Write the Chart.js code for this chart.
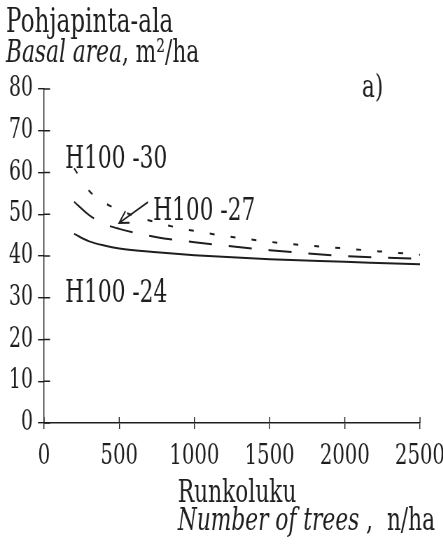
<!DOCTYPE html>
<html>
<head>
<meta charset="utf-8">
<script src="https://cdn.jsdelivr.net/npm/chart.js@4.4.1/dist/chart.umd.min.js"></script>
<style>
   html, body { margin: 0; padding: 0; background: #fff; overflow: hidden; }
   /* the figure is set in a narrow face, so the whole chart is squeezed sideways */
   #wrap { width: 633px; height: 550px; transform: scaleX(0.7); transform-origin: 0 0; }
</style>
</head>
<body>
<div id="wrap"><canvas id="basalChart"></canvas></div>
<script>
// stand density, n/ha
var treesPerHa = [200, 300, 400, 500, 750, 1000, 1500, 2000, 2500];
// basal area, m2/ha, for each dominant height class
var h100_24 = [45.3, 43.5, 42.5, 41.8, 40.9, 40.2, 39.2, 38.6, 38.0];
var h100_27 = [53.0, 49.8, 47.7, 46.5, 44.5, 43.3, 41.4, 40.0, 39.3];
var h100_30 = [61.0, 55.6, 52.8, 51.0, 48.0, 46.0, 43.4, 41.8, 40.3];
var xTicks = [0, 500, 1000, 1500, 2000, 2500];
var yTicks = [0, 10, 20, 30, 40, 50, 60, 70, 80];

(function () {
   var ink = "#1e1e1e";
   var serif = "'DejaVu Serif', 'Liberation Serif', serif";

   var toPoints = function (ys) {
      return treesPerHa.map(function (n, i) { return { x: n, y: ys[i] }; });
   };

   var curve = function (label, ys, dash) {
      return {
         label: label,
         data: toPoints(ys),
         showLine: true,
         borderColor: ink,
         borderWidth: 2,
         borderDash: dash,
         pointRadius: 0,
         cubicInterpolationMode: "monotone",
         fill: false
      };
   };

   // short tick stubs on the inner side of both axes, so the ticks cross the axis
   var innerTicks = {
      id: "innerTicks",
      afterDraw: function (chart) {
         var ctx = chart.ctx;
         var xs = chart.scales.x, ys = chart.scales.y;
         var area = chart.chartArea;
         ctx.save();
         ctx.strokeStyle = ink;
         ctx.lineWidth = 1.4;
         ctx.beginPath();
         yTicks.forEach(function (v) {
            var py = ys.getPixelForValue(v);
            ctx.moveTo(area.left, py);
            ctx.lineTo(area.left + 8.6, py);
         });
         xTicks.forEach(function (v) {
            var px = xs.getPixelForValue(v);
            ctx.moveTo(px, area.bottom);
            ctx.lineTo(px, area.bottom - 6);
         });
         ctx.stroke();
         ctx.restore();
      }
   };

   // axis titles, curve names and the arrow
   var notes = {
      id: "notes",
      afterDraw: function (chart) {
         var ctx = chart.ctx;
         var xs = chart.scales.x, ys = chart.scales.y;
         var at = function (n, v) { return [xs.getPixelForValue(n), ys.getPixelForValue(v)]; };
         ctx.save();
         ctx.fillStyle = ink;
         ctx.strokeStyle = ink;
         ctx.textBaseline = "alphabetic";
         ctx.textAlign = "left";

         ctx.font = "33px " + serif;
         ctx.fillText("Pohjapinta-ala", 8.6, 32);
         ctx.font = "italic 31px " + serif;
         ctx.fillText("Basal area", 8.6, 62);
         var w = ctx.measureText("Basal area").width;
         ctx.font = "31px " + serif;
         ctx.fillText(", m\u00b2/ha", 8.6 + w, 62);

         ctx.font = "31px " + serif;
         ctx.fillText("Runkoluku", 254, 502);
         ctx.font = "italic 31px " + serif;
         ctx.fillText("Number of trees", 254, 530);
         w = ctx.measureText("Number of trees").width;
         ctx.font = "31px " + serif;
         ctx.fillText(" ,  n/ha", 254 + w, 530);

         ctx.font = "31px " + serif;
         var p = at(2114, 78.1);
         ctx.fillText("a)", p[0], p[1]);
         p = at(140, 61.1);
         ctx.fillText("H100 -30", p[0], p[1]);
         p = at(725, 48.6);
         ctx.fillText("H100 -27", p[0], p[1]);
         p = at(140, 29.0);
         ctx.fillText("H100 -24", p[0], p[1]);

         // arrow to the H100 -27 curve
         var tail = at(691, 52.9), tip = at(499, 47.9);
         var ang = Math.atan2(tip[1] - tail[1], tip[0] - tail[0]);
         ctx.lineWidth = 1.8;
         ctx.beginPath();
         ctx.moveTo(tail[0], tail[1]);
         ctx.lineTo(tip[0], tip[1]);
         ctx.moveTo(tip[0] - 15 * Math.cos(ang - 0.45), tip[1] - 15 * Math.sin(ang - 0.45));
         ctx.lineTo(tip[0], tip[1]);
         ctx.lineTo(tip[0] - 15 * Math.cos(ang + 0.45), tip[1] - 15 * Math.sin(ang + 0.45));
         ctx.stroke();
         ctx.restore();
      }
   };

   var plain = function (value) { return String(value); };

   var ctx = document.getElementById("basalChart").getContext("2d");
   new Chart(ctx, {
      type: "scatter",
      data: {
         datasets: [
            curve("H100 -24", h100_24, []),
            curve("H100 -27", h100_27, [33, 24]),
            curve("H100 -30", h100_30, [7, 23])
         ]
      },
      options: {
         responsive: true,
         maintainAspectRatio: false,
         animation: false,
         devicePixelRatio: 1,
         layout: { padding: { top: 89, right: 33, bottom: 0, left: 0 } },
         plugins: { legend: { display: false }, tooltip: { enabled: false } },
         scales: {
            x: {
               type: "linear",
               min: 0,
               max: 2500,
               afterBuildTicks: function (scale) {
                  scale.ticks = xTicks.map(function (v) { return { value: v }; });
               },
               afterFit: function (scale) {
                  scale.height = 127;
                  scale.paddingLeft = 0;
                  scale.paddingRight = 0;
               },
               grid: { drawOnChartArea: false, drawTicks: true, tickLength: 6, color: ink, lineWidth: 1.4 },
               border: { display: true, color: ink, width: 1.4 },
               ticks: { color: ink, font: { family: serif, size: 28 }, padding: 11, maxRotation: 0, autoSkip: false, callback: plain }
            },
            y: {
               type: "linear",
               min: 0,
               max: 80,
               afterBuildTicks: function (scale) {
                  scale.ticks = yTicks.map(function (v) { return { value: v }; });
               },
               afterFit: function (scale) {
                  scale.width = 62.9;
               },
               grid: { drawOnChartArea: false, drawTicks: true, tickLength: 8.6, color: ink, lineWidth: 1.4 },
               border: { display: true, color: ink, width: 1.4 },
               ticks: { color: ink, font: { family: serif, size: 27 }, padding: 7.2, autoSkip: false, callback: plain }
            }
         }
      },
      plugins: [innerTicks, notes]
   });
})();
</script>
</body>
</html>
